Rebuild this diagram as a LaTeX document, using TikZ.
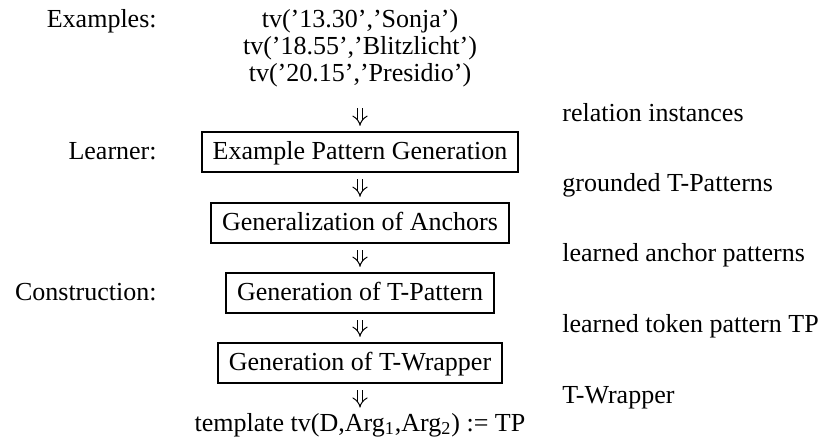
\documentclass[tikz,border=0pt]{standalone}
\usepackage{fontspec}
\setmainfont{Liberation Serif}
\usetikzlibrary{arrows.meta}
\newcommand{\midx}{360}
\newcommand{\leftx}{157}
\newcommand{\notex}{562}
\tikzset{
  plain/.style={inner sep=0pt, text height=9pt, text depth=2.5pt},
  stagebox/.style={draw, line width=1.2pt, inner xsep=5.5pt, inner ysep=3.5pt,
    text height=10.5pt, text depth=2.5pt},
  flow/.style={double, double distance=2.2pt, line width=0.5pt, -{Implies[scale=1.8]},
    shorten <=3pt, shorten >=2.5pt},
}

\begin{document}
\begin{tikzpicture}[x=0.5pt, y=-0.5pt, font=\fontsize{13}{15}\selectfont]
  \useasboundingbox (0,0) rectangle (824,448);
  % left column
  \node[plain, anchor=base east] (exlbl) at (\leftx,28) {Examples:};
  \node[plain, anchor=base east] (lrnlbl) at (\leftx,160) {Learner:};
  \node[plain, anchor=base east] (conlbl) at (\leftx,301) {Construction:};
  % middle column
  \node[plain, anchor=base] (tv1) at (\midx,28) {tv('13.30','Sonja')};
  \node[plain, anchor=base] (tv2) at (\midx,55) {tv('18.55','Blitzlicht')};
  \node[plain, anchor=base] (tv3) at (\midx,82) {tv('20.15','Presidio')};
  \node[stagebox, anchor=base] (epg) at (\midx,160) {Example Pattern Generation};
  \node[stagebox, anchor=base] (goa) at (\midx,231) {Generalization of Anchors};
  \node[stagebox, anchor=base] (gtp) at (\midx,301) {Generation of T-Pattern};
  \node[stagebox, anchor=base] (gtw) at (\midx,371) {Generation of T-Wrapper};
  \node[plain, anchor=base] (tmpl) at (\midx,431)
    {template tv(D,Arg\textsubscript{1},Arg\textsubscript{2}) := TP};
  \draw[flow, shorten <=10.5pt] (tv3) -- (epg);
  \draw[flow] (epg) -- (goa);
  \draw[flow] (goa) -- (gtp);
  \draw[flow] (gtp) -- (gtw);
  \draw[flow] (gtw) -- (tmpl);
  % right column
  \node[plain, anchor=base west] (n1) at (\notex,122) {relation instances};
  \node[plain, anchor=base west] (n2) at (\notex,192) {grounded T-Patterns};
  \node[plain, anchor=base west] (n3) at (\notex,262) {learned anchor patterns};
  \node[plain, anchor=base west] (n4) at (\notex,333) {learned token pattern TP};
  \node[plain, anchor=base west] (n5) at (\notex,403) {T-Wrapper};
\end{tikzpicture}
\end{document}
